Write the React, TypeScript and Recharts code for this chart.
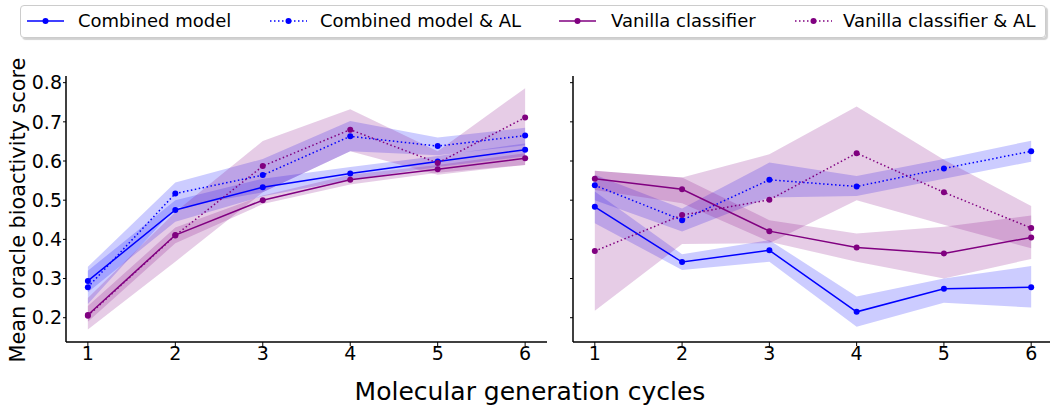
import { ComposedChart, Area, Line, XAxis, YAxis } from 'recharts';

const BLUE = '#0000ff';
const PURPLE = '#800080';
const FONT = '"DejaVu Sans", sans-serif';

const CYCLES = [1, 2, 3, 4, 5, 6];
const X_TICKS = [1, 2, 3, 4, 5, 6];
const Y_TICKS = [0.2, 0.3, 0.4, 0.5, 0.6, 0.7, 0.8];

// left panel
const A_COMBINED = [0.294, 0.475, 0.533, 0.568, 0.599, 0.629];
const A_COMBINED_LO = [0.265, 0.445, 0.51, 0.552, 0.585, 0.612];
const A_COMBINED_HI = [0.32, 0.5, 0.555, 0.585, 0.613, 0.645];
const A_COMBINED_AL = [0.278, 0.517, 0.564, 0.663, 0.638, 0.665];
const A_COMBINED_AL_LO = [0.235, 0.48, 0.52, 0.625, 0.615, 0.64];
const A_COMBINED_AL_HI = [0.33, 0.545, 0.605, 0.702, 0.66, 0.685];
const A_VANILLA = [0.207, 0.411, 0.5, 0.552, 0.579, 0.607];
const A_VANILLA_LO = [0.19, 0.39, 0.49, 0.54, 0.57, 0.59];
const A_VANILLA_HI = [0.23, 0.43, 0.512, 0.565, 0.59, 0.62];
const A_VANILLA_AL = [0.205, 0.41, 0.587, 0.68, 0.595, 0.711];
const A_VANILLA_AL_LO = [0.17, 0.343, 0.52, 0.625, 0.565, 0.59];
const A_VANILLA_AL_HI = [0.25, 0.47, 0.651, 0.732, 0.625, 0.786];

// right panel
const B_COMBINED = [0.483, 0.342, 0.372, 0.215, 0.274, 0.278];
const B_COMBINED_LO = [0.441, 0.322, 0.343, 0.177, 0.238, 0.226];
const B_COMBINED_HI = [0.522, 0.362, 0.398, 0.254, 0.3, 0.332];
const B_COMBINED_AL = [0.538, 0.449, 0.552, 0.535, 0.581, 0.625];
const B_COMBINED_AL_LO = [0.5, 0.42, 0.507, 0.511, 0.555, 0.598];
const B_COMBINED_AL_HI = [0.565, 0.479, 0.596, 0.562, 0.605, 0.652];
const B_VANILLA = [0.555, 0.528, 0.421, 0.379, 0.364, 0.405];
const B_VANILLA_LO = [0.526, 0.492, 0.394, 0.343, 0.3, 0.35];
const B_VANILLA_HI = [0.575, 0.558, 0.449, 0.415, 0.432, 0.461];
const B_VANILLA_AL = [0.37, 0.462, 0.501, 0.62, 0.52, 0.429];
const B_VANILLA_AL_LO = [0.218, 0.388, 0.39, 0.5, 0.437, 0.377];
const B_VANILLA_AL_HI = [0.575, 0.558, 0.617, 0.739, 0.603, 0.485];

type SeriesKey = 'combined' | 'combinedAl' | 'vanilla' | 'vanillaAl';

interface SeriesConfig {
  key: SeriesKey;
  name: string;
  color: string;
  dotted: boolean;
}

const SERIES: SeriesConfig[] = [
  { key: 'combined', name: 'Combined model', color: BLUE, dotted: false },
  { key: 'combinedAl', name: 'Combined model & AL', color: BLUE, dotted: true },
  { key: 'vanilla', name: 'Vanilla classifier', color: PURPLE, dotted: false },
  { key: 'vanillaAl', name: 'Vanilla classifier & AL', color: PURPLE, dotted: true },
];

type Triple = [number[], number[], number[]];

const buildRows = (src: Record<SeriesKey, Triple>) =>
  CYCLES.map((cycle, i) => {
    const row: Record<string, number | number[]> = { cycle };
    (Object.keys(src) as SeriesKey[]).forEach((k) => {
      const [mean, lo, hi] = src[k];
      row[k] = mean[i];
      row[`${k}Band`] = [lo[i], hi[i]];
    });
    return row;
  });

const ROWS_A = buildRows({
  combined: [A_COMBINED, A_COMBINED_LO, A_COMBINED_HI],
  combinedAl: [A_COMBINED_AL, A_COMBINED_AL_LO, A_COMBINED_AL_HI],
  vanilla: [A_VANILLA, A_VANILLA_LO, A_VANILLA_HI],
  vanillaAl: [A_VANILLA_AL, A_VANILLA_AL_LO, A_VANILLA_AL_HI],
});

const ROWS_B = buildRows({
  combined: [B_COMBINED, B_COMBINED_LO, B_COMBINED_HI],
  combinedAl: [B_COMBINED_AL, B_COMBINED_AL_LO, B_COMBINED_AL_HI],
  vanilla: [B_VANILLA, B_VANILLA_LO, B_VANILLA_HI],
  vanillaAl: [B_VANILLA_AL, B_VANILLA_AL_LO, B_VANILLA_AL_HI],
});

const DOT_DASH = '1.5 2.5';
const tickStyle = { fontSize: 19, fill: '#000', fontFamily: FONT };

// shared y axis: the right panel keeps its tick marks but draws no labels
const EmptyTick = () => <g />;

interface PanelProps {
  rows: Record<string, number | number[]>[];
  width: number;
  yAxisWidth: number;
  showYLabels: boolean;
  marginRight: number;
}

function Panel({ rows, width, yAxisWidth, showYLabels, marginRight }: PanelProps) {
  return (
    <ComposedChart
      width={width}
      height={406}
      data={rows}
      margin={{ top: 76, right: marginRight, bottom: 0, left: 0 }}
    >
      <XAxis
        dataKey="cycle"
        type="number"
        domain={[0.75, 6.25]}
        ticks={X_TICKS}
        allowDataOverflow
        height={64}
        tick={tickStyle}
        tickSize={4}
        tickMargin={1}
        stroke="#000"
        axisLine={{ stroke: '#000', strokeWidth: 1.5 }}
        tickLine={{ stroke: '#000', strokeWidth: 1 }}
      />
      <YAxis
        type="number"
        domain={[0.138, 0.817]}
        ticks={Y_TICKS}
        allowDataOverflow
        width={yAxisWidth}
        tick={showYLabels ? tickStyle : EmptyTick}
        tickFormatter={(v: number) => v.toFixed(1)}
        tickSize={3}
        tickMargin={1}
        stroke="#000"
        axisLine={{ stroke: '#000', strokeWidth: 1.5 }}
        tickLine={{ stroke: '#000', strokeWidth: 1 }}
      />
      {SERIES.map((s) => (
        <Area
          key={`${s.key}-band`}
          type="linear"
          dataKey={`${s.key}Band`}
          stroke="none"
          fill={s.color}
          fillOpacity={0.2}
          dot={false}
          activeDot={false}
          isAnimationActive={false}
        />
      ))}
      {SERIES.map((s) => (
        <Line
          key={s.key}
          type="linear"
          dataKey={s.key}
          stroke={s.color}
          strokeWidth={1.5}
          strokeDasharray={s.dotted ? DOT_DASH : undefined}
          dot={{ r: 3, fill: s.color, stroke: 'none' }}
          activeDot={false}
          isAnimationActive={false}
        />
      ))}
    </ComposedChart>
  );
}

// legend entries: sample start x and label start x
const LEGEND_POS = [
  { sample: 26, text: 78 },
  { sample: 269, text: 320 },
  { sample: 558, text: 611 },
  { sample: 794, text: 843 },
];

function LegendBox() {
  return (
    <div
      style={{
        position: 'absolute',
        left: 20,
        top: 5,
        width: 1024,
        height: 31,
        border: '1px solid #cccccc',
        borderRadius: 4,
        background: 'rgba(255,255,255,0.9)',
        boxShadow: '2px 2px 1px rgba(0,0,0,0.18)',
        zIndex: 2,
      }}
    >
      {SERIES.map((s, i) => {
        const pos = LEGEND_POS[i];
        return (
          <div key={s.key}>
            <svg
              width={40}
              height={10}
              style={{ position: 'absolute', left: pos.sample - 21, top: 10 }}
            >
              <line
                x1={1}
                x2={38}
                y1={5}
                y2={5}
                stroke={s.color}
                strokeWidth={1.5}
                strokeDasharray={s.dotted ? DOT_DASH : undefined}
              />
              <circle cx={19.5} cy={5} r={3} fill={s.color} />
            </svg>
            <span
              style={{
                position: 'absolute',
                left: pos.text - 21,
                top: 3,
                fontSize: 18,
                lineHeight: '24px',
                fontFamily: FONT,
                color: '#000',
                whiteSpace: 'nowrap',
              }}
            >
              {s.name}
            </span>
          </div>
        );
      })}
    </div>
  );
}

export default function App() {
  return (
    <div
      style={{
        position: 'absolute',
        left: 0,
        top: 0,
        width: 1050,
        height: 406,
        overflow: 'hidden',
        background: '#fff',
        fontFamily: FONT,
      }}
    >
      <div style={{ position: 'absolute', left: 0, top: 0 }}>
        <Panel rows={ROWS_A} width={560} yAxisWidth={66} showYLabels marginRight={13} />
      </div>
      <div style={{ position: 'absolute', left: 560, top: 0 }}>
        <Panel rows={ROWS_B} width={493} yAxisWidth={13} showYLabels={false} marginRight={0} />
      </div>
      <svg
        width={1050}
        height={406}
        style={{ position: 'absolute', left: 0, top: 0, pointerEvents: 'none' }}
      >
        <text
          x={18}
          y={210}
          transform="rotate(-90, 18, 210)"
          textAnchor="middle"
          dominantBaseline="central"
          fontSize={20.8}
          fontFamily={FONT}
          fill="#000"
        >
          Mean oracle bioactivity score
        </text>
        <text
          x={530}
          y={400}
          textAnchor="middle"
          fontSize={25}
          fontFamily={FONT}
          fill="#000"
        >
          Molecular generation cycles
        </text>
      </svg>
      <LegendBox />
    </div>
  );
}
